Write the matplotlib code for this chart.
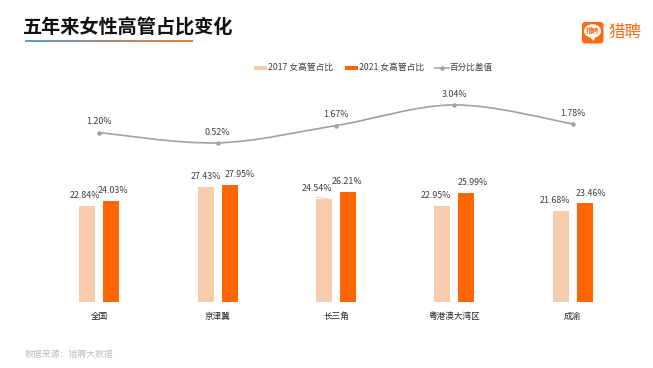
import matplotlib
matplotlib.use('Agg')
import matplotlib.pyplot as plt
import numpy as np
from matplotlib.colors import LinearSegmentedColormap
from matplotlib.patches import FancyBboxPatch, Ellipse, Polygon
from matplotlib.path import Path
from matplotlib.patches import PathPatch

plt.rcParams['font.family'] = ['Noto Sans CJK SC', 'DejaVu Sans']

W, H = 653, 368

regions = ['全国', '京津冀', '长三角', '粤港澳大湾区', '成渝']
share_2017 = [22.84, 27.43, 24.54, 22.95, 21.68]
share_2021 = [24.03, 27.95, 26.21, 25.99, 23.46]
diff = [1.20, 0.52, 1.67, 3.04, 1.78]

LIGHT = '#F8CBAD'
DARK = '#FF6600'
GREY = '#A0A0A0'
TEXT = '#404040'
BRAND = '#FF6A13'

# hand placed labels in the original, sideways shift in pixels
nudge_2017 = [-2.5, 0, -7, -7, -6]
nudge_2021 = [2, 10.5, -1, 6, 6]
PX_X = 1 / 118.4


def px_axes(fig, left, top, right, bottom):
    # axes box given in pixels from the top left corner
    return fig.add_axes([left / W, 1 - bottom / H, (right - left) / W, (bottom - top) / H])


def smooth_path(xs, ys):
    # catmull-rom through the points, as bezier segments
    verts = [(xs[0], ys[0])]
    codes = [Path.MOVETO]
    n = len(xs)
    for i in range(n - 1):
        x0, y0 = (xs[i - 1], ys[i - 1]) if i > 0 else (xs[i], ys[i])
        x3, y3 = (xs[i + 2], ys[i + 2]) if i + 2 < n else (xs[i + 1], ys[i + 1])
        x1, y1, x2, y2 = xs[i], ys[i], xs[i + 1], ys[i + 1]
        verts += [(x1 + (x2 - x0) / 6, y1 + (y2 - y0) / 6),
                  (x2 - (x3 - x1) / 6, y2 - (y3 - y1) / 6),
                  (x2, y2)]
        codes += [Path.CURVE4] * 3
    return Path(verts, codes)


fig = plt.figure(figsize=(W / 100, H / 100), dpi=100, facecolor='white')

# bars
ax = px_axes(fig, 40, 60, 632, 302)
ax.set_xlim(-0.5, 4.5)
ax.set_ylim(0, 57.6)
x = np.arange(len(regions))
offset = 12 * PX_X
width = 16 * PX_X
ax.bar(x - offset, share_2017, width, color=LIGHT, label='2017 女高管占比')
ax.bar(x + offset, share_2021, width, color=DARK, label='2021 女高管占比')
for i in x:
    ax.text(i - offset + nudge_2017[i] * PX_X, share_2017[i] + 1.4, f'{share_2017[i]:.2f}%', ha='center',
            va='bottom', fontsize=6.4, color=TEXT)
    ax.text(i + offset + nudge_2021[i] * PX_X, share_2021[i] + 1.4, f'{share_2021[i]:.2f}%', ha='center',
            va='bottom', fontsize=6.4, color=TEXT)
ax.set_xticks(x, regions)
ax.tick_params(axis='x', length=0, pad=7, labelsize=6.2, labelcolor='#262626')
ax.set_yticks([])
for s in ax.spines.values():
    s.set_visible(False)
ax.patch.set_alpha(0)

# smoothed difference line on its own scale
ax2 = ax.twinx()
ax2.set_ylim(-10.04, 6.02)
ax2.set_yticks([])
for s in ax2.spines.values():
    s.set_visible(False)
ax2.add_patch(PathPatch(smooth_path(list(x), diff), fill=False, edgecolor=GREY, lw=1.2))
ax2.plot(x, diff, ls='none', marker='o', ms=2.2, color=GREY)
for i in x:
    ax2.text(i, diff[i] + 0.42, f'{diff[i]:.2f}%', ha='center', va='bottom', fontsize=6.4, color=TEXT)

# page layer, in pixels
page = fig.add_axes([0, 0, 1, 1], zorder=5)
page.patch.set_alpha(0)

page.text(22.5, 27.5, '五年来女性高管占比变化', fontsize=13.8, fontweight='bold', color='#111111', va='center')
grad = LinearSegmentedColormap.from_list('g', ['#5B9BD5', '#ED7D31'])
page.imshow(np.linspace(0, 1, 200).reshape(1, -1), cmap=grad, extent=(25, 193, 41.6, 40), aspect='auto')
page.set_xlim(0, W)
page.set_ylim(H, 0)
page.axis('off')

# logo
page.add_patch(FancyBboxPatch((585, 25), 15.5, 15.5, boxstyle='round,pad=3', fc=BRAND, ec='none'))
page.add_patch(Ellipse((592.5, 31), 17, 13.5, fc='white', ec='none'))
page.add_patch(Polygon([(589, 36), (596, 36), (593.5, 41)], fc='white', ec='none'))
page.text(592.5, 31, '猎聘', fontsize=4.8, fontweight='bold', color=BRAND, ha='center', va='center')
page.text(608.5, 33, '猎聘', fontsize=11.9, fontweight='medium', color=BRAND, va='center')

# legend drawn by hand to keep the spacing
page.add_patch(plt.Rectangle((253.5, 65.5), 13.5, 4.5, fc=LIGHT, ec='none'))
page.text(268, 67.5, '2017 女高管占比', fontsize=6.3, color=TEXT, va='center')
page.add_patch(plt.Rectangle((344.5, 65.5), 13.5, 4.5, fc=DARK, ec='none'))
page.text(359, 67.5, '2021 女高管占比', fontsize=6.3, color=TEXT, va='center')
page.plot([435, 449], [67.5, 67.5], color=GREY, lw=1.1)
page.plot([442], [67.5], marker='o', ms=2.2, color=GREY)
page.text(450, 67.5, '百分比差值', fontsize=6.2, color=TEXT, va='center')

# leader from the 长三角 2017 label to its bar
page.plot([316, 331], [197, 199.5], color=LIGHT, lw=0.6)

page.text(25, 354, '数据来源：猎聘大数据', fontsize=6.4, color='#BFBFBF', va='center')

fig.savefig('out.png', dpi=100)
